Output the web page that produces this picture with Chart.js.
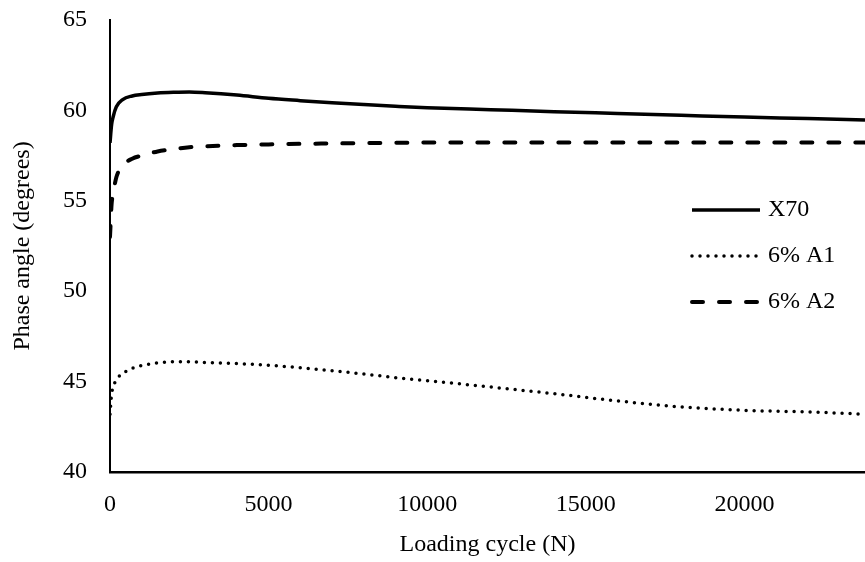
<!DOCTYPE html>
<html>
<head>
<meta charset="utf-8">
<script src="https://cdn.jsdelivr.net/npm/chart.js@4"></script>
<style>
  html, body { margin: 0; padding: 0; background: #fff; }
</style>
</head>
<body>
<canvas id="phaseChart" width="865" height="562"></canvas>
<script>
const cycles = [0, 50, 100, 200, 400, 700, 1000, 1500, 2000, 2500, 3000, 4000, 5000,
    6000, 7000, 8000, 9000, 10000, 12000, 14000, 16000, 18000, 20000, 22000, 23800];

// phase angle (degrees)
const x70 = [58.2, 59.2, 59.65, 60.2, 60.6, 60.8, 60.88, 60.96, 61.0, 61.02, 60.98, 60.85, 60.67,
    60.54, 60.42, 60.32, 60.23, 60.15, 60.04, 59.93, 59.83, 59.73, 59.63, 59.55, 59.47];
const a1 = [43.2, 44.3, 44.7, 45.1, 45.45, 45.73, 45.89, 46.03, 46.1, 46.1, 46.06, 46.0, 45.9,
    45.77, 45.6, 45.42, 45.22, 45.05, 44.7, 44.33, 43.93, 43.6, 43.41, 43.32, 43.2];
const a2 = [53.0, 54.8, 55.4, 56.3, 56.95, 57.33, 57.5, 57.73, 57.86, 57.96, 58.01, 58.08, 58.12,
    58.15, 58.17, 58.19, 58.21, 58.22, 58.23, 58.23, 58.23, 58.23, 58.23, 58.23, 58.23];

const seriesNames = ['X70', '6% A1', '6% A2'];
const xTicks = [0, 5000, 10000, 15000, 20000];
const yTicks = [40, 45, 50, 55, 60, 65];

function pairs(values) {
    return cycles.map((c, i) => ({ x: c, y: values[i] }));
}

function setTicks(list) {
    return scale => { scale.ticks = list.map(v => ({ value: v })); };
}

Chart.defaults.font.family = "'Liberation Serif', 'Times New Roman', serif";
Chart.defaults.font.size = 24;
Chart.defaults.color = '#000';

// legend drawn inside the plot, right side
const insideLegend = {
    id: 'insideLegend',
    afterDraw(chart) {
        const ctx = chart.ctx;
        const x0 = 692, x1 = 760, top = 210, gap = 46;
        chart.data.datasets.forEach((ds, i) => {
            const y = top + i * gap;
            ctx.save();
            ctx.strokeStyle = ds.borderColor;
            ctx.lineWidth = ds.borderWidth;
            ctx.lineCap = ds.borderCapStyle || 'butt';
            ctx.setLineDash(ds.borderDash || []);
            ctx.beginPath();
            ctx.moveTo(x0, y);
            ctx.lineTo(x1, y);
            ctx.stroke();
            ctx.setLineDash([]);
            ctx.fillStyle = '#000';
            ctx.font = "24px 'Liberation Serif'";
            ctx.textBaseline = 'middle';
            ctx.fillText(ds.label, x1 + 8, y);
            ctx.restore();
        });
    }
};

var ctx = document.getElementById('phaseChart').getContext('2d');
var chart = new Chart(ctx, {
    type: 'line',
    data: {
        datasets: [{
            label: seriesNames[0],
            data: pairs(x70),
            borderColor: '#000',
            borderWidth: 3.5,
            borderCapStyle: 'butt'
        }, {
            label: seriesNames[1],
            data: pairs(a1),
            borderColor: '#000',
            borderWidth: 3.5,
            borderDash: [0, 8],
            borderCapStyle: 'round'
        }, {
            label: seriesNames[2],
            data: pairs(a2),
            borderColor: '#000',
            borderWidth: 4,
            borderDash: [11, 16],
            borderCapStyle: 'round'
        }]
    },
    options: {
        responsive: false,
        animation: false,
        cubicInterpolationMode: 'monotone',
        elements: { point: { radius: 0 } },
        layout: { padding: { top: 20, right: 0, bottom: 0, left: 0 } },
        plugins: { legend: { display: false }, tooltip: { enabled: false } },
        scales: {
            x: {
                type: 'linear',
                min: 0,
                max: 23800,
                afterBuildTicks: setTicks(xTicks),
                grid: { display: true, drawOnChartArea: false, drawTicks: false },
                border: { color: '#000', width: 2.5 },
                ticks: { padding: 18, maxRotation: 0, autoSkip: false, callback: v => String(v) },
                title: { display: true, text: 'Loading cycle (N)', padding: { top: 0, bottom: 3 } },
                afterFit: s => { s.height = 90; s.paddingLeft = 0; s.paddingRight = 0; }
            },
            y: {
                min: 40,
                max: 65,
                afterBuildTicks: setTicks(yTicks),
                grid: { display: true, drawOnChartArea: false, drawTicks: false },
                border: { color: '#000', width: 2 },
                ticks: { padding: 23, callback: v => String(v) },
                title: { display: true, text: 'Phase angle (degrees)', padding: { top: 8, bottom: 0 } },
                afterFit: s => { s.width = 110; s.paddingTop = 0; s.paddingBottom = 0; }
            }
        }
    },
    plugins: [insideLegend]
});
</script>
</body>
</html>
